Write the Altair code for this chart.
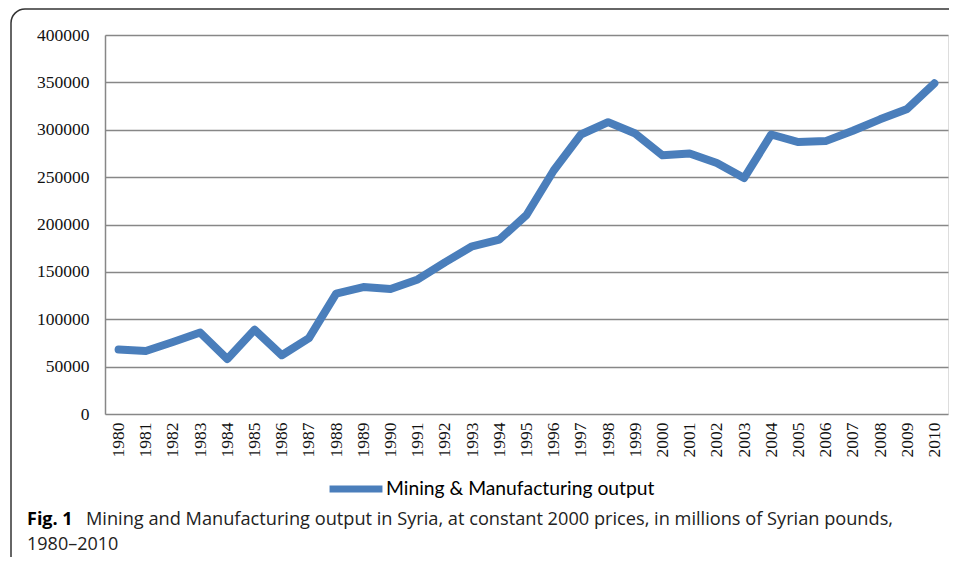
import altair as alt
import pandas as pd
import math

years = [str(y) for y in range(1980, 2011)]
output = [68000, 66500, 76000, 86000, 58000, 89000, 62000, 80000, 127000, 134000,
          132000, 142000, 160000, 177000, 184000, 210000, 257000, 295000, 308000, 296000,
          273000, 275000, 265000, 249000, 295000, 287000, 288000, 299000, 311000, 322000,
          349000]
series_name = "Mining & Manufacturing output"
caption_bold = "Fig. 1"
caption_rest = "Mining and Manufacturing output in Syria, at constant 2000 prices, in millions of Syrian pounds,"
caption_line2 = "1980\u20132010"

df = pd.DataFrame({"year": years, "value": output, "series": series_name})

W, H = 843, 379
FRAME = "#333333"
blank = alt.Data(values=[{}])

frame_top = alt.Chart(blank).mark_rule(color=FRAME, strokeWidth=1.5).encode(
    x=alt.value(-80), x2=alt.value(W + 30), y=alt.value(-26)
)
frame_left = alt.Chart(blank).mark_rule(color=FRAME, strokeWidth=1.5).encode(
    x=alt.value(-94), y=alt.value(-12), y2=alt.value(H + 300)
)
frame_corner = alt.Chart(blank).mark_arc(
    color=FRAME, innerRadius=13.25, outerRadius=14.75,
    theta=1.5 * math.pi, theta2=2 * math.pi
).encode(x=alt.value(-80), y=alt.value(-12))

line = alt.Chart(df).mark_line(
    color="#4A7EBB", strokeWidth=8, strokeCap="round", strokeJoin="round"
).encode(
    x=alt.X("year:O", title=None, sort=None,
            scale=alt.Scale(type="point", padding=0.5),
            axis=alt.Axis(labelAngle=-90, labelFont="Liberation Serif", labelFontSize=17.5,
                          labelColor="#111111", ticks=False, domain=False, labelPadding=8,
                          grid=False)),
    y=alt.Y("value:Q", title=None,
            scale=alt.Scale(domain=[0, 400000], nice=False),
            axis=alt.Axis(values=list(range(0, 400001, 50000)), format="d",
                          labelFont="Liberation Serif", labelFontSize=17.5, labelColor="#111111",
                          ticks=False, domainColor="#878787", domainWidth=1.5,
                          gridColor="#878787", gridWidth=1.5, labelPadding=16)),
    color=alt.Color("series:N", scale=alt.Scale(range=["#4A7EBB"]),
                    legend=alt.Legend(title=None, orient="none", legendX=221, legendY=424,
                                      symbolType="stroke", symbolSize=2800, symbolStrokeWidth=7,
                                      labelFont="Lato", labelFontSize=19.3, labelColor="#000000",
                                      labelOffset=0, labelLimit=500)),
)

cap1 = alt.Chart(blank).mark_text(
    text=caption_bold, font="Open Sans", fontWeight="bold", fontSize=18, align="left",
    baseline="alphabetic", color="#000000"
).encode(x=alt.value(-78), y=alt.value(490))

cap2 = alt.Chart(blank).mark_text(
    text=caption_rest, font="Open Sans", fontSize=18.2, align="left",
    baseline="alphabetic", color="#222222"
).encode(x=alt.value(-19), y=alt.value(490))

cap3 = alt.Chart(blank).mark_text(
    text=caption_line2, font="Open Sans", fontSize=18, align="left",
    baseline="alphabetic", color="#222222"
).encode(x=alt.value(-78), y=alt.value(515))

chart = alt.layer(frame_top, frame_left, frame_corner, line, cap1, cap2, cap3).properties(
    width=W, height=H,
    autosize=alt.AutoSizeParams(type="none"),
    padding={"left": 97, "top": 27, "right": 1, "bottom": 143},
).configure_view(stroke=None).configure(background="white")

chart.save("out.html", embed_options={"renderer": "svg", "actions": False})
